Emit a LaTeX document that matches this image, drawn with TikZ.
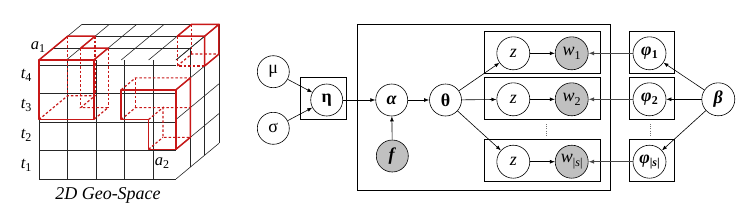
\documentclass[tikz,border=0pt]{standalone}
\usepackage{fontspec}
\setmainfont{Liberation Serif}
\usetikzlibrary{arrows.meta}
\definecolor{cubered}{RGB}{200,24,24}
\definecolor{obsgray}{RGB}{192,192,192}
\newcommand\lowsub[1]{\raisebox{-0.4ex}{\fontsize{12}{12}\selectfont #1}}
\begin{document}
\begin{tikzpicture}[x=1pt,y=-1pt,
  rv/.style={circle,draw,line width=0.6pt,minimum size=33pt,inner sep=0pt,font=\fontsize{18}{18}\selectfont},
  obs/.style={rv,fill=obsgray},
  platebox/.style={draw,line width=0.9pt,inner sep=0pt},
  arr/.style={-{Latex[length=5pt,width=3.8pt]},line width=0.6pt},
  heavyarr/.style={-{Latex[length=5.5pt,width=4.2pt]},line width=1.3pt,draw=black!72,fill=black!72},
  gridline/.style={line width=0.6pt,draw=black!85},
  redsolid/.style={draw=cubered,line width=1.5pt,line join=round,line cap=round},
  reddash/.style={draw=cubered,line width=1.2pt,dash pattern=on 2.5pt off 2pt},
  lab/.style={font=\fontsize{16.5}{17}\selectfont\itshape},
  dotsline/.style={line width=0.9pt,draw=black!55,dash pattern=on 0.8pt off 1.4pt}
]
\useasboundingbox (0,0) rectangle (746,210);

% ---------- cube ----------
\begin{scope}[shift={(39,179)},x={(27.4pt,0pt)},y={(0pt,29.75pt)},z={(14.33pt,11.9pt)}]
  \draw[gridline] (0,0) grid (5,4);
  \foreach \i in {0,...,5} \draw[gridline] (\i,4,0) -- (\i,4,3);
  \foreach \k in {1,...,3} \draw[gridline] (0,4,\k) -- (5,4,\k);
  \foreach \j in {0,...,4} \draw[gridline] (5,\j,0) -- (5,\j,3);
  \foreach \k in {1,...,3} \draw[gridline] (5,0,\k) -- (5,4,\k);
  % box 1
  \draw[reddash] (0,4,2) -- (0,2,2);
  \draw[reddash] (1,4,2) -- (1,2,2);
  \draw[reddash] (1,4,1) -- (1,2,1);
  \draw[reddash] (2,4,1) -- (2,2,1);
  \draw[reddash] (0,2,0) -- (0,2,2) -- (1,2,2) -- (1,2,1) -- (2,2,1) -- (2,2,0);
  \draw[redsolid] (0,2,0) -- (2,2,0) -- (2,4,0) -- (0,4,0) -- cycle;
  \draw[redsolid] (0,4,0) -- (0,4,2) -- (1,4,2) -- (1,4,1) -- (2,4,1) -- (2,4,0);
  % box 2
  \draw[reddash] (4,4,2) -- (4,3,2) -- (5,3,2);
  \draw[reddash] (4,3,2) -- (4,3,3) -- (5,3,3);
  \draw[reddash] (4,4,3) -- (4,3,3);
  \draw[redsolid] (4,4,2) -- (5,4,2) -- (5,4,3) -- (4,4,3) -- cycle;
  \draw[redsolid] (5,4,2) -- (5,3,2) -- (5,3,3) -- (5,4,3);
  % box 3
  \draw[reddash] (3,3,0) -- (3,3,1) -- (5,3,1);
  \draw[reddash] (3,3,1) -- (3,2,1);
  \draw[reddash] (3,2,0) -- (3,2,1) -- (5,2,1);
  \draw[reddash] (4,2,0) -- (4,2,1) -- (4,1,1) -- (5,1,1);
  \draw[reddash] (4,1,0) -- (4,1,1);
  \draw[redsolid] (3,3,0) -- (5,3,0) -- (5,1,0) -- (4,1,0) -- (4,2,0) -- (3,2,0) -- cycle;
  \draw[redsolid] (5,3,0) -- (5,3,1) -- (5,1,1) -- (5,1,0);
\end{scope}

\node[lab] (a1) at (38,47) {a\lowsub{\upshape 1}};
\node[lab] (a2) at (162,163) {a\lowsub{\upshape 2}};
\node[lab,anchor=east] (t4) at (35,75) {t\lowsub{\upshape 4}};
\node[lab,anchor=east] (t3) at (35,105) {t\lowsub{\upshape 3}};
\node[lab,anchor=east] (t2) at (35,135) {t\lowsub{\upshape 2}};
\node[lab,anchor=east] (t1) at (35,165) {t\lowsub{\upshape 1}};
\node[font=\fontsize{18}{18}\selectfont\itshape] (caption) at (108,195) {2D Geo-Space};

% ---------- plates ----------
\node[platebox,minimum width=46pt,minimum height=41.7pt] (etaplate) at (323.7,98.2) {};
\node[platebox,minimum width=252.7pt,minimum height=166pt] (bigplate) at (483.65,107) {};
\node[platebox,minimum width=116.4pt,minimum height=41.6pt] (plateA) at (542.5,52.5) {};
\node[platebox,minimum width=116.4pt,minimum height=41.6pt] (plateB) at (542.5,98.5) {};
\node[platebox,minimum width=116.4pt,minimum height=41.7pt] (plateC) at (542.5,160.15) {};
\node[platebox,minimum width=45pt,minimum height=41.6pt] (phiplateA) at (651.8,52.5) {};
\node[platebox,minimum width=45pt,minimum height=41.6pt] (phiplateB) at (651.8,98.5) {};
\node[platebox,minimum width=45pt,minimum height=41.7pt] (phiplateC) at (651.8,160.15) {};

% ---------- variables ----------
\node[rv,minimum size=32pt] (mu) at (273.3,71.7) {μ};
\node[rv,minimum size=32pt] (sigma) at (273.3,128.3) {σ};
\node[rv,minimum size=32pt] (eta) at (326.7,100) {\textbf{η}};
\node[rv,minimum size=32pt] (alpha) at (391.7,100) {\textbf{\textit{α}}};
\node[rv,minimum size=32pt] (theta) at (445.5,100) {\textbf{θ}};
\node[obs,minimum size=32pt] (f) at (392.3,156) {\textbf{\textit{f}}};
\node[rv] (z1) at (513.3,53.3) {\textit{z}};
\node[rv] (z2) at (513.3,99.3) {\textit{z}};
\node[rv] (z3) at (513.3,161.7) {\textit{z}};
\node[obs] (w1) at (571.7,53.3) {\textit{w}\lowsub{1}};
\node[obs] (w2) at (571.7,99.3) {\textit{w}\lowsub{2}};
\node[obs] (w3) at (571.7,161.7) {\textit{w}\lowsub{|\textit{s}|}};
\node[rv] (phi1) at (649.5,53.3) {\textbf{\textit{φ}}\lowsub{\textbf{1}}};
\node[rv] (phi2) at (649.5,99.3) {\textbf{\textit{φ}}\lowsub{\textbf{2}}};
\node[rv] (phi3) at (649.5,161.7) {\textbf{\textit{φ}}\lowsub{\textbf{|\textit{s}|}}};
\node[rv] (beta) at (718.3,99.3) {\textbf{\textit{β}}};

\draw[dotsline] (546.7,124) -- (546.7,137);
\draw[dotsline] (650,124) -- (650,137);

% ---------- edges ----------
\draw[arr] (mu) -- (eta);
\draw[arr] (sigma) -- (eta);
\draw[arr] (eta) -- (alpha);
\draw[arr] (f) -- (alpha);
\draw[arr] (alpha) -- (theta);
\draw[arr] (theta) -- (z1);
\draw[arr] (theta) -- (z2);
\draw[arr] (theta) -- (z3);
\draw[arr] (z1) -- (w1);
\draw[arr] (z2) -- (w2);
\draw[arr] (z3) -- (w3);
\draw[heavyarr] (phi1) -- (w1);
\draw[heavyarr] (phi2) -- (w2);
\draw[heavyarr] (phi3) -- (w3);
\draw[arr] (beta) -- (phi1);
\draw[arr] (beta) -- (phi2);
\draw[arr] (beta) -- (phi3);
\end{tikzpicture}
\end{document}
